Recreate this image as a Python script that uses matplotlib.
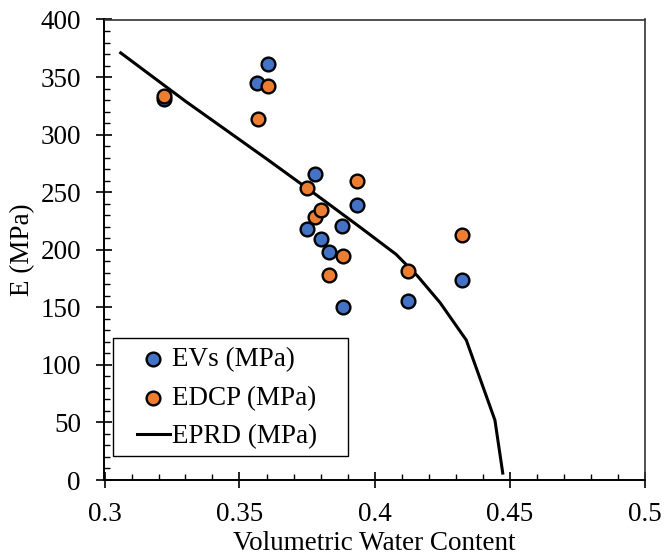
import matplotlib.pyplot as plt
from matplotlib.patches import Rectangle

plt.rcParams['font.family'] = ['Liberation Serif', 'DejaVu Serif']
plt.rcParams['font.size'] = 19.5

vwc_evs = [0.322, 0.3566, 0.3606, 0.3749, 0.378, 0.3802, 0.3833, 0.388, 0.3885, 0.3934, 0.4123, 0.4325]
e_vs = [331, 345, 361.5, 218, 265.5, 209, 198, 221, 150, 238.5, 155.5, 174]

vwc_edcp = [0.322, 0.3569, 0.3606, 0.3749, 0.378, 0.3802, 0.3833, 0.3882, 0.3934, 0.4123, 0.4325]
e_dcp = [333.5, 313.5, 342.5, 253.5, 228.5, 234.5, 178, 195, 260, 181.5, 213]

# Predicted curve
vwc_prd = [0.306, 0.33, 0.36, 0.38, 0.395, 0.408, 0.416, 0.4243, 0.434, 0.4446, 0.4475]
e_prd = [371, 329, 279, 245, 219, 196, 177, 154, 121.5, 52, 6]

W, H = 664, 557
fig = plt.figure(figsize=(W / 100, H / 100), dpi=100)
ax = fig.add_axes([104.5 / W, 77 / H, 540 / W, 460.5 / H])

line, = ax.plot(vwc_prd, e_prd, color='black', lw=2.2, zorder=2)
evs = ax.scatter(vwc_evs, e_vs, s=98, color='#4472C4', edgecolors='black', linewidths=1.7, zorder=3)
edcp = ax.scatter(vwc_edcp, e_dcp, s=98, color='#ED7D31', edgecolors='black', linewidths=1.7, zorder=4)

ax.set_xlim(0.3, 0.5)
ax.set_ylim(0, 400)
ax.set_xticks([0.3, 0.35, 0.4, 0.45, 0.5])
ax.set_xticklabels(['0.3', '0.35', '0.4', '0.45', '0.5'])
ax.set_xticks([0.3 + 0.01 * i for i in range(21)], minor=True)
ax.set_yticks(range(0, 401, 50))
ax.set_yticks(range(0, 401, 10), minor=True)

ax.tick_params(which='major', direction='inout', length=11, width=1.2, pad=11.5)
ax.tick_params(axis='x', which='major', pad=10.5)
ax.tick_params(which='minor', direction='in', length=4.5, width=1.0)
ax.tick_params(top=False, right=False, which='both')

for side in ['left', 'bottom']:
    ax.spines[side].set_linewidth(1.4)
    ax.spines[side].set_color('black')
for side in ['top', 'right']:
    ax.spines[side].set_linewidth(1.2)
    ax.spines[side].set_color('#333333')

ax.set_xlabel('Volumetric Water Content', labelpad=2.5)
ax.set_ylabel('E (MPa)', labelpad=4)

# legend frame drawn separately so the padding matches the original box
frame = Rectangle((112.7 / W, (H - 455.7) / H), 235.6 / W, 117.4 / H,
                  transform=fig.transFigure, facecolor='white',
                  edgecolor='black', lw=1.0, zorder=5, clip_on=False)
ax.add_patch(frame)
leg = ax.legend([evs, edcp, line], ['EVs (MPa)', 'EDCP (MPa)', 'EPRD (MPa)'],
                loc='center left', bbox_to_anchor=(137 / W, (H - 398.5) / H),
                bbox_transform=fig.transFigure, borderaxespad=0, frameon=False,
                handlelength=1.2, handletextpad=0.1, labelspacing=0.5,
                borderpad=0, fontsize=19.5)
leg.set_zorder(6)

fig.savefig('out.png', dpi=100)
